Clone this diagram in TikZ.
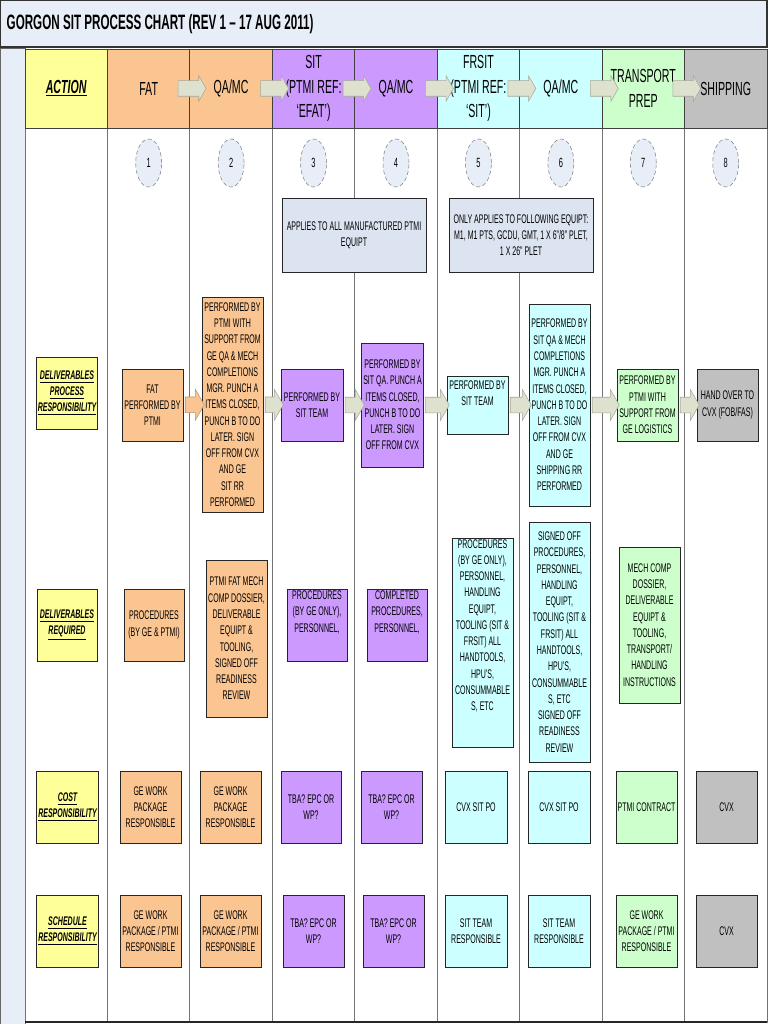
\documentclass[tikz,border=0pt]{standalone}
\usepackage{fontspec}
\setmainfont{Liberation Sans}[FakeStretch=0.56]
\usepackage{tikz}
\usetikzlibrary{shapes.geometric,shapes.arrows}

\definecolor{yel}{HTML}{FFFF99}
\definecolor{pch}{HTML}{FBC592}
\definecolor{pur}{HTML}{CC99FF}
\definecolor{cya}{HTML}{CCFFFF}
\definecolor{grn}{HTML}{CCFFCC}
\definecolor{gry}{HTML}{C0C0C0}
\definecolor{pale}{HTML}{E8EEF8}
\definecolor{notefill}{HTML}{DCE4F1}
\definecolor{arrfill}{HTML}{DEE1CE}

\newcommand\boxfont{\fontsize{9.4}{12.2}\selectfont}
\newcommand\labfont{\fontsize{9.4}{12}\selectfont\bfseries\itshape}
\newcommand\headfont{\fontsize{14.2}{18.5}\selectfont}
\newcommand\numfont{\fontsize{10}{12}\selectfont}
\newcommand\ttlfont{\fontsize{15.6}{18}\selectfont\bfseries}

\tikzset{
  sz/.style 2 args={minimum width=#1*0.75pt, minimum height=#2*0.75pt},
  box/.style={rectangle, draw=black!85, line width=0.7pt, fill=#1, align=center,
              font=\boxfont, inner sep=1pt},
  box/.default={white},
  lab/.style={box=yel, font=\labfont},
  note/.style={box=notefill, sz={144}{74}},
  hcell/.style={rectangle, draw=black!75, line width=0.6pt, fill=#1, align=center,
                font=\headfont, sz={82.44}{79}, inner sep=0pt},
  num/.style={ellipse, draw=gray, densely dashed, fill=pale, sz={26}{48},
              font=\numfont, inner sep=0pt},
  flow/.style={single arrow, draw=#1!75!black, line width=0.4pt, fill=#1,
               single arrow tip angle=120, single arrow head extend=7.5*0.75pt,
               inner xsep=0pt, inner ysep=7.5*0.75pt},
  flow/.default={arrfill},
  hflow/.style={flow, single arrow head extend=5*0.75pt, minimum height=28*0.75pt},
  alen/.style={minimum height=#1*0.75pt},
  grid/.style={draw=black!55, line width=0.6pt},
}

\begin{document}
\begin{tikzpicture}[x=0.75pt, y=-0.75pt]
\useasboundingbox (0,0) rectangle (768,1024);
% title band and side strip
\draw[fill=pale, draw=black!80, line width=0.8pt] (0,0) rectangle (767,47);
\node[anchor=west, font=\ttlfont] (title) at (2,24) {GORGON SIT PROCESS CHART (REV 1 -- 17 AUG 2011)};
\draw[fill=pale, draw=black!60] (0,48) rectangle (25,1024);
\draw[grid, fill=white] (25,49) rectangle (767,1022);
\foreach \i in {1,...,8}
  \draw[grid] ({25+82.44*\i},128) -- ({25+82.44*\i},1022);
\draw[black!85, line width=0.9pt] (25,1022) -- (767,1022);

% header row
\foreach \i/\nm/\col/\txt in {0/hact/yel/{\underline{\textbf{\textit{ACTION}}}},
    1/hfat/pch/FAT, 2/hqa/pch/{QA/MC}, 3/hsit/pur/{SIT\\(PTMI REF:\\`EFAT')},
    4/hqb/pur/{QA/MC}, 5/hfrsit/cya/{FRSIT\\(PTMI REF:\\`SIT')}, 6/hqc/cya/{QA/MC},
    7/htrans/grn/{TRANSPORT\\PREP}, 8/hship/gry/SHIPPING}
  \node[hcell=\col] (\nm) at ({25+82.44*(\i+0.5)},88.5) {\txt};
\foreach \a/\b in {hfat/hqa, hqa/hsit, hsit/hqb, hqb/hfrsit, hfrsit/hqc, hqc/htrans, htrans/hship}
  \path (\a) -- (\b) node[midway, hflow] {};

% step numbers
\foreach \i in {1,...,8}
  \node[num] (c\i) at ({25+82.44*(\i+0.5)},163) {\i};

% scope notes
\node[note] (n1) at (354,235) {APPLIES TO ALL MANUFACTURED PTMI\\EQUIPT};
\node[note] (n2) at (521,235) {ONLY APPLIES TO FOLLOWING EQUIPT:\\M1, M1 PTS, GCDU, GMT, 1 X 6"/8" PLET,\\1 X 26" PLET};

% deliverables process responsibility
\node[lab, sz={60}{72}] (lab1) at (67,393) {\underline{DELIVERABLES}\\\underline{PROCESS}\\\underline{RESPONSIBILITY}};
\node[box=pch, sz={61}{72}] (fat1) at (152.5,405) {FAT\\PERFORMED BY\\PTMI};
\node[box=pch, sz={61}{215}] (qa1) at (232.5,404.5) {PERFORMED BY\\PTMI WITH\\SUPPORT FROM\\GE QA \& MECH\\COMPLETIONS\\MGR. PUNCH A\\ITEMS CLOSED,\\PUNCH B TO DO\\LATER. SIGN\\OFF FROM CVX\\AND GE\\SIT RR\\PERFORMED};
\node[box=pur, sz={62}{72}] (sit1) at (312,405) {PERFORMED BY\\SIT TEAM};
\node[box=pur, sz={61}{124}] (qb1) at (392.5,405) {PERFORMED BY\\SIT QA. PUNCH A\\ITEMS CLOSED,\\PUNCH B TO DO\\LATER. SIGN\\OFF FROM CVX};
\node[box=cya, sz={61}{58}] (fr1) at (477.5,405) {PERFORMED BY\\SIT TEAM\\[6pt]};
\node[box=cya, sz={61}{202}] (qc1) at (559.5,405) {PERFORMED BY\\SIT QA \& MECH\\COMPLETIONS\\MGR. PUNCH A\\ITEMS CLOSED,\\PUNCH B TO DO\\LATER. SIGN\\OFF FROM CVX\\AND GE\\SHIPPING RR\\PERFORMED};
\node[box=grn, sz={61}{72}] (tr1) at (647.5,405) {PERFORMED BY\\PTMI WITH\\SUPPORT FROM\\GE LOGISTICS};
\node[box=gry, sz={61}{72}] (sh1) at (727.5,405) {HAND OVER TO\\CVX (FOB/FAS)};
\path (fat1.east) -- (qa1.west) node[midway, flow=pch, alen=19] {};
\foreach \a/\b/\l in {qa1/sit1/18, sit1/qb1/19, qb1/fr1/24, fr1/qc1/21, qc1/tr1/27, tr1/sh1/19}
  \path (\a.east) -- (\b.west) node[midway, flow, alen=\l] {};

% deliverables required
\node[lab, sz={60}{72}] (lab2) at (67,625) {\underline{DELIVERABLES}\\\underline{REQUIRED}};
\node[box=pch, sz={60}{72}] (fat2) at (154,625) {PROCEDURES\\(BY GE \& PTMI)};
\node[box=pch, sz={61}{157}] (qa2) at (236.5,638.5) {PTMI FAT MECH\\COMP DOSSIER,\\DELIVERABLE\\EQUIPT \&\\TOOLING,\\SIGNED OFF\\READINESS\\REVIEW};
\node[box=pur, sz={60}{72}] (sit2) at (317,625) {PROCEDURES\\(BY GE ONLY),\\PERSONNEL,\\[8pt]};
\node[box=pur, sz={60}{72}] (qb2) at (397,625) {COMPLETED\\PROCEDURES,\\PERSONNEL,\\[8pt]};
\node[box=cya, sz={61}{197}] (fr2) at (482.5,642.5) {PROCEDURES\\(BY GE ONLY),\\PERSONNEL,\\HANDLING\\EQUIPT,\\TOOLING (SIT \&\\FRSIT) ALL\\HANDTOOLS,\\HPU'S,\\CONSUMMABLE\\S, ETC\\[14pt]};
\node[box=cya, sz={61}{240}] (qc2) at (559.5,642) {SIGNED OFF\\PROCEDURES,\\PERSONNEL,\\HANDLING\\EQUIPT,\\TOOLING (SIT \&\\FRSIT) ALL\\HANDTOOLS,\\HPU'S,\\CONSUMMABLE\\S, ETC\\SIGNED OFF\\READINESS\\REVIEW};
\node[box=grn, sz={61}{156}] (tr2) at (649.5,625) {MECH COMP\\DOSSIER,\\DELIVERABLE\\EQUIPT \&\\TOOLING,\\TRANSPORT/\\HANDLING\\INSTRUCTIONS};

% cost responsibility
\node[lab, sz={61}{72}] (lab3) at (67.5,807) {\underline{COST}\\\underline{RESPONSIBILITY}};
\node[box=pch, sz={61}{72}] (fat3) at (150.5,807) {GE WORK\\PACKAGE\\RESPONSIBLE};
\node[box=pch, sz={61}{72}] (qa3) at (230.5,807) {GE WORK\\PACKAGE\\RESPONSIBLE};
\node[box=pur, sz={60}{72}] (sit3) at (311,807) {TBA? EPC OR\\WP?};
\node[box=pur, sz={61}{72}] (qb3) at (391.5,807) {TBA? EPC OR\\WP?};
\node[box=cya, sz={62}{72}] (fr3) at (476,807) {CVX SIT PO};
\node[box=cya, sz={62}{72}] (qc3) at (559,807) {CVX SIT PO};
\node[box=grn, sz={61}{72}] (tr3) at (646.5,807) {PTMI CONTRACT};
\node[box=gry, sz={61}{72}] (sh3) at (726.5,807) {CVX};

% schedule responsibility
\node[lab, sz={61}{72}] (lab4) at (67.5,931) {\underline{SCHEDULE}\\\underline{RESPONSIBILITY}};
\node[box=pch, sz={61}{72}] (fat4) at (150.5,931) {GE WORK\\PACKAGE / PTMI\\RESPONSIBLE};
\node[box=pch, sz={61}{72}] (qa4) at (230.5,931) {GE WORK\\PACKAGE / PTMI\\RESPONSIBLE};
\node[box=pur, sz={61}{72}] (sit4) at (313.5,931) {TBA? EPC OR\\WP?};
\node[box=pur, sz={61}{72}] (qb4) at (393.5,931) {TBA? EPC OR\\WP?};
\node[box=cya, sz={62}{72}] (fr4) at (476,931) {SIT TEAM\\RESPONSIBLE};
\node[box=cya, sz={62}{72}] (qc4) at (559,931) {SIT TEAM\\RESPONSIBLE};
\node[box=grn, sz={61}{72}] (tr4) at (646.5,931) {GE WORK\\PACKAGE / PTMI\\RESPONSIBLE};
\node[box=gry, sz={61}{72}] (sh4) at (726.5,931) {CVX};
\end{tikzpicture}
\end{document}
